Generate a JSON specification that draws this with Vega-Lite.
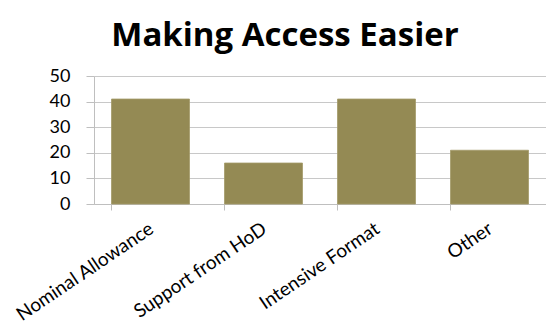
{
  "$schema": "https://vega.github.io/schema/vega-lite/v6.json",
  "autosize": "none",
  "width": 452,
  "height": 128,
  "padding": {"left": 94, "top": 76, "right": 0, "bottom": 130},
  "background": "white",
  "title": {
    "text": "Making Access Easier",
    "font": "Open Sans",
    "fontSize": 33,
    "fontWeight": "bold",
    "color": "black",
    "anchor": "middle",
    "frame": "group",
    "baseline": "alphabetic",
    "offset": 29,
    "dy": 41,
    "dx": -35
  },
  "data": {
    "values": [
      {"category": "Nominal Allowance", "value": 41},
      {"category": "Support from HoD", "value": 16},
      {"category": "Intensive Format", "value": 41},
      {"category": "Other", "value": 21}
    ]
  },
  "mark": {"type": "bar", "color": "#948A54", "stroke": "#A39A68", "strokeWidth": 0.8},
  "encoding": {
    "x": {
      "field": "category",
      "type": "nominal",
      "sort": null,
      "scale": {"paddingInner": 0.31, "paddingOuter": 0.155},
      "axis": {
        "title": null,
        "labelAngle": -34,
        "labelAlign": "right",
        "labelBaseline": "top",
        "labelPadding": 9,
        "labelOffset": -4,
        "labelFont": "Lato",
        "labelFontSize": 19,
        "labelColor": "black",
        "bandPosition": 0,
        "tickSize": 6,
        "tickColor": "#BFBFBF",
        "domainColor": "#BFBFBF",
        "grid": false
      }
    },
    "y": {
      "field": "value",
      "type": "quantitative",
      "scale": {"domain": [0, 50]},
      "axis": {
        "title": null,
        "values": [0, 10, 20, 30, 40, 50],
        "labelFont": "Lato",
        "labelFontSize": 18,
        "labelColor": "black",
        "labelPadding": 16,
        "tickSize": 8,
        "tickColor": "#BFBFBF",
        "domainColor": "#BFBFBF",
        "gridColor": "#C8C8C8",
        "gridOpacity": 1
      }
    }
  },
  "config": {"view": {"stroke": null}}
}
